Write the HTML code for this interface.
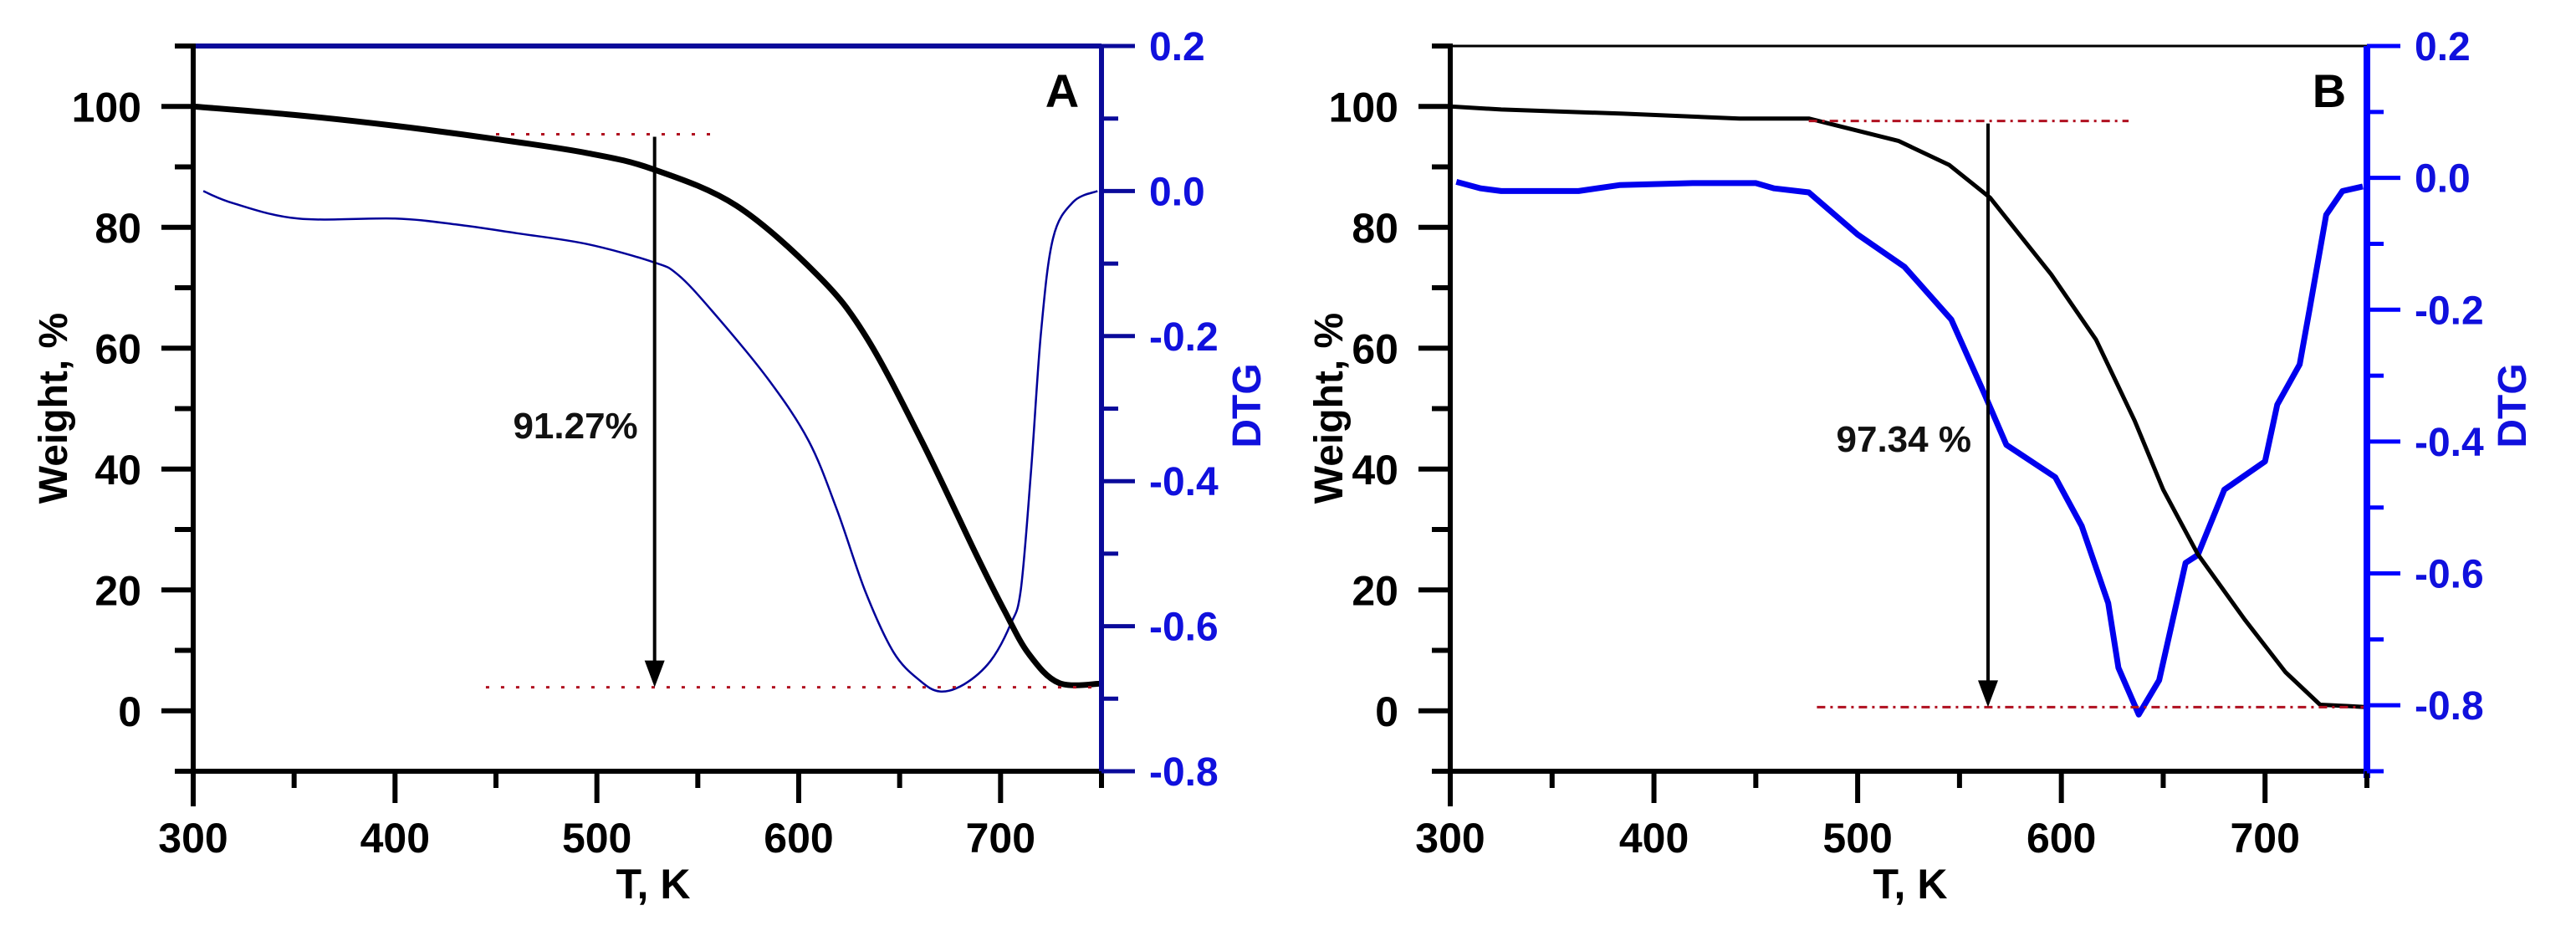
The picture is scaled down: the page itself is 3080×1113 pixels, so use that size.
<!DOCTYPE html>
<html><head><meta charset="utf-8"><style>
html,body{margin:0;padding:0;background:#fff;}
svg{display:block;font-family:"Liberation Sans",Arial,sans-serif;}
</style></head><body>
<svg id="chart" width="3080" height="1113" viewBox="0 0 3080 1113" xmlns="http://www.w3.org/2000/svg"></svg>
<script>
// ---- Data ----
const tempTicks = [300, 400, 500, 600, 700];
const weightTicks = [0, 20, 40, 60, 80, 100];
const dtgTicksA = [0.2, 0.0, -0.2, -0.4, -0.6, -0.8];
const dtgTicksB = [0.2, 0.0, -0.2, -0.4, -0.6, -0.8];

const tempWeightA = [300, 350, 400, 450, 495, 528, 569, 609, 633, 661, 688, 702, 714, 729, 750];
const weightA =     [100, 98.6, 96.8, 94.6, 92.3, 89.6, 83.6, 72.2, 62.1, 44.6, 25.8, 16.5, 9.4, 4.6, 4.5];
const tempDtgA = [305, 320, 352, 400, 430, 460, 495, 528, 540, 557, 585, 605, 619, 633, 647, 660, 670, 682, 695, 705, 710, 715, 720, 726, 736, 748];
const dtgA =     [0.0, -0.017, -0.038, -0.038, -0.046, -0.058, -0.073, -0.098, -0.115, -0.165, -0.26, -0.345, -0.44, -0.552, -0.636, -0.675, -0.69, -0.68, -0.648, -0.597, -0.55, -0.39, -0.196, -0.065, -0.015, 0.0];

const tempWeightB = [300, 325, 385, 442, 476, 520, 545, 565, 595, 617, 636, 650, 667, 690, 710, 727, 740, 750];
const weightB =     [100, 99.5, 98.8, 98.0, 98.0, 94.3, 90.3, 84.9, 72.2, 61.4, 48, 36.6, 25.9, 15.1, 6.4, 1.0, 0.8, 0.6];
const tempDtgB = [303, 315, 325, 363, 383, 419, 450, 459, 476, 500, 523, 546, 562, 573, 597, 610, 623, 628, 638, 648, 661, 667, 680, 700, 706, 717, 722, 730, 738, 748];
const dtgB =     [-0.006, -0.016, -0.02, -0.02, -0.011, -0.008, -0.008, -0.016, -0.022, -0.086, -0.135, -0.215, -0.326, -0.405, -0.454, -0.528, -0.645, -0.743, -0.814, -0.762, -0.584, -0.572, -0.473, -0.43, -0.344, -0.283, -0.197, -0.056, -0.02, -0.013];

const lossA = [95.4, 3.9];
const lossB = [97.6, 0.6];
const labelA = "91.27%";
const labelB = "97.34 %";

const NS = "http://www.w3.org/2000/svg";
const svg = document.getElementById('chart');
function mk(tag, attrs, parent) {
  const e = document.createElementNS(NS, tag);
  for (const k in attrs) e.setAttribute(k, attrs[k]);
  (parent || svg).appendChild(e);
  return e;
}
function linePath(pts) {
  return pts.map((p, i) => (i ? 'L' : 'M') + p[0].toFixed(1) + ',' + p[1].toFixed(1)).join(' ');
}
function smoothPath(pts) {
  let d = 'M' + pts[0][0].toFixed(1) + ',' + pts[0][1].toFixed(1);
  for (let i = 0; i < pts.length - 1; i++) {
    const p0 = pts[Math.max(0, i - 1)], p1 = pts[i], p2 = pts[i + 1], p3 = pts[Math.min(pts.length - 1, i + 2)];
    const c1x = p1[0] + (p2[0] - p0[0]) / 6, c1y = p1[1] + (p2[1] - p0[1]) / 6;
    const c2x = p2[0] - (p3[0] - p1[0]) / 6, c2y = p2[1] - (p3[1] - p1[1]) / 6;
    d += ` C${c1x.toFixed(1)},${c1y.toFixed(1)} ${c2x.toFixed(1)},${c2y.toFixed(1)} ${p2[0].toFixed(1)},${p2[1].toFixed(1)}`;
  }
  return d;
}

function panel(cfg) {
  const g = mk('g', {});
  
  
  const xL = cfg.x0, xR = cfg.x1, yT = 55, yB = 922;
  const X = t => xL + (t - 300) / 450 * (xR - xL);
  const YW = w => yB - (w + 10) / 120 * (yB - yT);
  const YD = d => yT + (0.2 - d) / (0.2 - cfg.dMin) * (yB - yT);
  const pathFn = cfg.smooth ? smoothPath : linePath;

  const dPts = cfg.tD.map((t, i) => [X(t), YD(cfg.vD[i])]);
  const dl = mk('path', {d: pathFn(dPts), fill: 'none', stroke: cfg.dtgColor, 'stroke-width': cfg.dtgW, 'stroke-linejoin': 'round'}, g);
  
  
  const wPts = cfg.tW.map((t, i) => [X(t), YW(cfg.vW[i])]);
  const wl = mk('path', {d: pathFn(wPts), fill: 'none', stroke: '#000', 'stroke-width': cfg.wW, 'stroke-linejoin': 'round'}, g);
  
  

  const top = mk('line', {x1: X(cfg.topT[0]), x2: X(cfg.topT[1]), y1: YW(cfg.loss[0]), y2: YW(cfg.loss[0]), stroke: '#b01020', 'stroke-width': 3, 'stroke-dasharray': cfg.dash}, g);
  
  
  const bot = mk('line', {x1: X(cfg.botT), x2: xR, y1: YW(cfg.loss[1]), y2: YW(cfg.loss[1]), stroke: '#b01020', 'stroke-width': 3, 'stroke-dasharray': cfg.dash}, g);
  
  
  const ax = X(cfg.arrowT);
  const ar = mk('line', {x1: ax, x2: ax, y1: YW(cfg.loss[0]) + 3, y2: YW(cfg.loss[1]) - 20, stroke: '#000', 'stroke-width': 4}, g);
  
  
  const yb = YW(cfg.loss[1]);
  const ah = mk('path', {d: `M${ax - 12},${yb - 32} L${ax + 12},${yb - 32} L${ax},${yb} Z`, fill: '#000'}, g);
  
  
  const lt = mk('text', {x: ax - 20, y: cfg.labelY, 'text-anchor': 'end', 'font-size': 44, 'font-weight': 'bold', fill: '#111'}, g);
  lt.textContent = cfg.label;
  
  

  const topAx = mk('line', {x1: xL, x2: xR, y1: yT, y2: yT, stroke: cfg.topColor, 'stroke-width': cfg.topW}, g);
  
  
  const la = mk('line', {x1: xL, x2: xL, y1: yT - 3, y2: yB + 42, stroke: '#000', 'stroke-width': 6}, g);
  
  
  const ba = mk('line', {x1: xL - 20, x2: xR, y1: yB, y2: yB, stroke: '#000', 'stroke-width': 6}, g);
  
  
  const ra = mk('line', {x1: xR, x2: xR, y1: yT, y2: yB + 8, stroke: cfg.rightColor, 'stroke-width': cfg.rightW}, g);
  
  

  for (let w = -10; w <= 110; w += 10) {
    const major = w % 20 === 0;
    mk('line', {x1: xL - (major ? 38 : 22), x2: xL, y1: YW(w), y2: YW(w), stroke: '#000', 'stroke-width': 6}, g);
  }
  weightTicks.forEach(w => {
    const t = mk('text', {x: xL - 62, y: YW(w) + 18, 'text-anchor': 'end', 'font-size': 50, 'font-weight': 'bold', fill: '#000'}, g);
    t.textContent = w;
    
    
  });
  for (let t = 300; t <= 750; t += 50) {
    const major = t % 100 === 0;
    mk('line', {x1: X(t), x2: X(t), y1: yB, y2: yB + (major ? 38 : 20), stroke: '#000', 'stroke-width': 6}, g);
  }
  tempTicks.forEach(v => {
    const t = mk('text', {x: X(v), y: 1019, 'text-anchor': 'middle', 'font-size': 50, 'font-weight': 'bold', fill: '#000'}, g);
    t.textContent = v;
    
    
  });
  for (let k = 0; k <= Math.round((0.2 - cfg.dMin) * 10); k++) {
    const d = 0.2 - k * 0.1;
    const major = k % 2 === 0;
    mk('line', {x1: xR, x2: xR + (major ? 40 : 20), y1: YD(d), y2: YD(d), stroke: cfg.rightColor, 'stroke-width': 5}, g);
  }
  cfg.dTicks.forEach(d => {
    const t = mk('text', {x: xR + 57, y: YD(d) + 17, 'font-size': 48, 'font-weight': 'bold', fill: '#1010dd'}, g);
    t.textContent = (d < 0 ? '-' : '') + Math.abs(d).toFixed(1);
    
    
  });

  const yt = mk('text', {transform: `translate(${cfg.wTitleX},488) rotate(-90)`, 'text-anchor': 'middle', 'font-size': 48, 'font-weight': 'bold', fill: '#000'}, g);
  yt.textContent = 'Weight, %';
  
  
  const dt = mk('text', {transform: `translate(${xR + 190},485) rotate(-90)`, 'text-anchor': 'middle', 'font-size': 48, 'font-weight': 'bold', fill: '#1010dd'}, g);
  dt.textContent = 'DTG';
  
  
  const xt = mk('text', {x: xL + 550, y: 1074, 'text-anchor': 'middle', 'font-size': 50, 'font-weight': 'bold', fill: '#000'}, g);
  xt.textContent = 'T, K';
  
  
  const pl = mk('text', {x: cfg.letterX, y: 128, 'text-anchor': 'middle', 'font-size': 56, 'font-weight': 'bold', fill: '#000'}, g);
  pl.textContent = cfg.letter;
  
  
}

panel({name: 'panel-a', x0: 231, x1: 1317, dMin: -0.8, tW: tempWeightA, vW: weightA, tD: tempDtgA, vD: dtgA, smooth: true,
  dtgColor: '#000099', dtgW: 2.5, wW: 7, dTicks: dtgTicksA, loss: lossA, topT: [450, 560], botT: 445, arrowT: 528.6,
  label: labelA, labelY: 524, dash: '4 14', topColor: '#0a0a9a', topW: 6, rightColor: '#0a0a9a', rightW: 6,
  wTitleX: 80, letter: 'A', letterX: 1270});
panel({name: 'panel-b', x0: 1734, x1: 2830, dMin: -0.9, tW: tempWeightB, vW: weightB, tD: tempDtgB, vD: dtgB, smooth: false,
  dtgColor: '#0000ee', dtgW: 7, wW: 5, dTicks: dtgTicksB, loss: lossB, topT: [476, 633], botT: 480, arrowT: 564,
  label: labelB, labelY: 540, dash: '10 6 3 6', topColor: '#000', topW: 3, rightColor: '#0000ff', rightW: 8,
  wTitleX: 1605, letter: 'B', letterX: 2785});
</script>
</body></html>
